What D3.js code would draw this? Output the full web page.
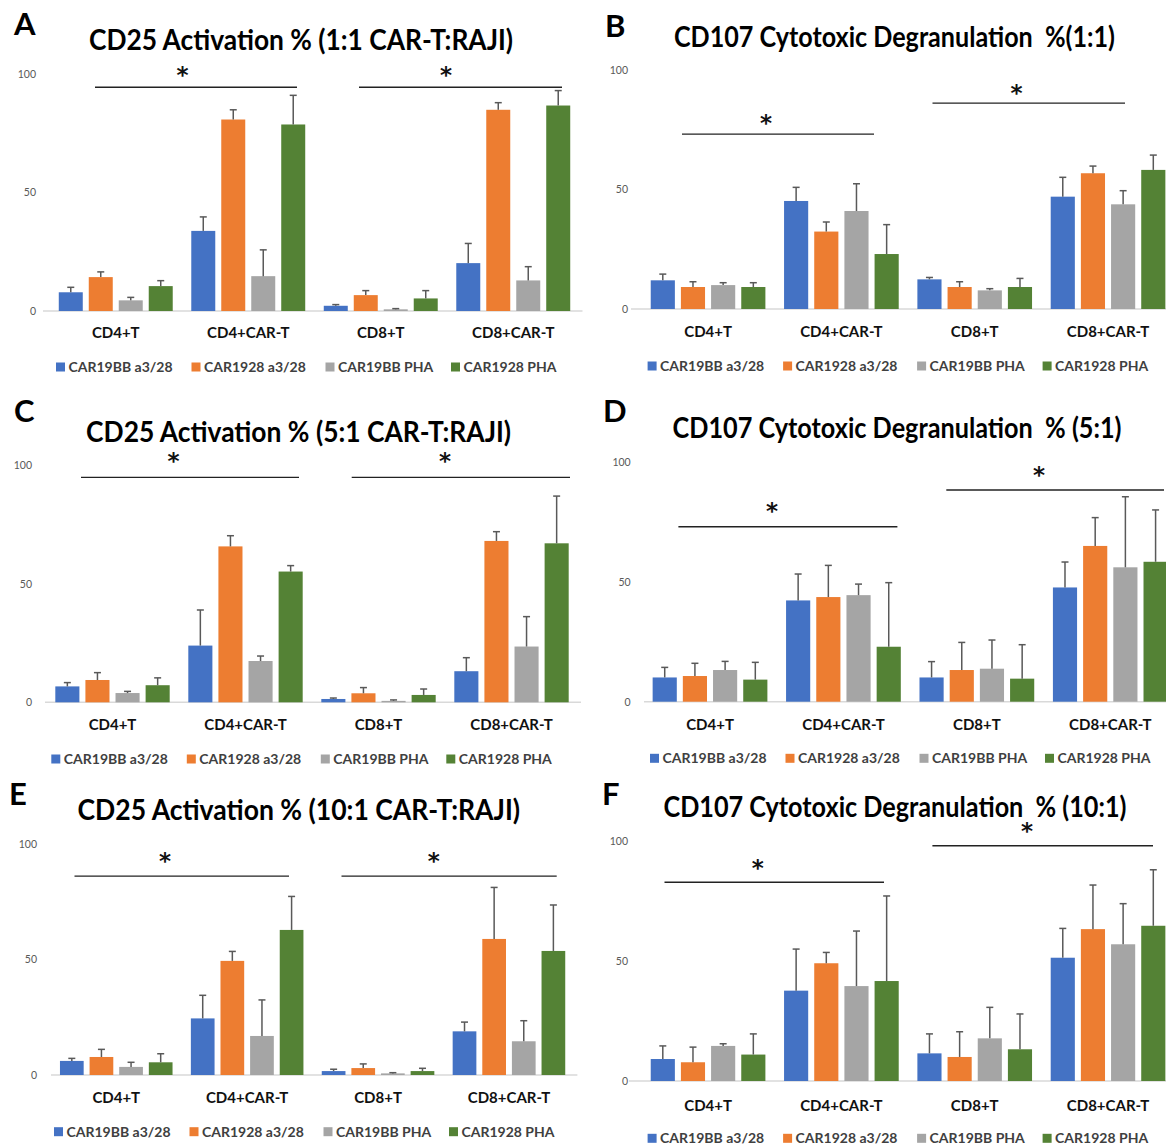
<!DOCTYPE html>
<html>
<head>
<meta charset="utf-8">
<script src="https://cdn.jsdelivr.net/npm/d3@7"></script>
<style>
  body { margin: 0; background: #fff; }
  svg { display: block; font-family: Lato, "Open Sans", sans-serif; }
</style>
</head>
<body>
<div id="chart"></div>
<script>
// categories and series shared by all six panels
const categories = ["CD4+T", "CD4+CAR-T", "CD8+T", "CD8+CAR-T"];
const seriesNames = ["CAR19BB a3/28", "CAR1928 a3/28", "CAR19BB PHA", "CAR1928 PHA"];
const tickValues = [0, 50, 100];

// means per category, in series order; sd = upper error bar
const cd25_1to1 = [[7.9, 14.3, 4.5, 10.5], [33.8, 80.8, 14.7, 78.7], [2.2, 6.7, 0.7, 5.3], [20.2, 84.9, 12.9, 86.7]];
const cd25_1to1_sd = [[2.1, 2.2, 1.25, 2.3], [5.9, 4.1, 11.1, 12.3], [0.5, 1.9, 0.3, 3.3], [8.3, 3.0, 5.8, 6.3]];
const cd107_1to1 = [[12.0, 9.2, 10.0, 9.2], [45.2, 32.4, 41.0, 23.0], [12.4, 9.2, 7.8, 9.2], [47.0, 56.8, 43.8, 58.2]];
const cd107_1to1_sd = [[2.6, 2.2, 1.0, 1.8], [5.7, 4.0, 11.4, 12.3], [0.8, 2.2, 0.7, 3.6], [8.1, 3.0, 5.7, 6.2]];
const cd25_5to1 = [[6.7, 9.4, 3.9, 7.2], [23.9, 65.7, 17.4, 55.1], [1.4, 3.8, 0.6, 3.1], [13.1, 68.0, 23.5, 67.0]];
const cd25_5to1_sd = [[1.6, 3.1, 0.7, 3.1], [15.0, 4.5, 2.1, 2.5], [0.4, 2.4, 0.4, 2.5], [5.7, 3.9, 12.6, 19.9]];
const cd107_5to1 = [[10.1, 10.7, 13.2, 9.2], [42.2, 43.6, 44.4, 22.9], [10.1, 13.2, 13.75, 9.6], [47.6, 64.9, 56.0, 58.3]];
const cd107_5to1_sd = [[4.2, 5.3, 3.6, 7.2], [11.0, 13.2, 4.6, 26.7], [6.6, 11.5, 11.95, 14.15], [10.6, 11.8, 29.4, 21.6]];
const cd25_10to1 = [[6.1, 7.8, 3.5, 5.5], [24.5, 49.4, 16.9, 62.8], [1.7, 3.0, 0.7, 1.7], [18.9, 58.9, 14.6, 53.7]];
const cd25_10to1_sd = [[1.1, 3.3, 2.0, 3.7], [10.0, 4.1, 15.6, 14.5], [0.8, 1.8, 0.3, 1.2], [4.0, 22.3, 8.9, 19.9]];
const cd107_10to1 = [[9.15, 7.8, 14.6, 11.0], [37.6, 49.0, 39.5, 41.6], [11.5, 10.0, 17.75, 13.2], [51.3, 63.2, 56.9, 64.6]];
const cd107_10to1_sd = [[5.45, 6.3, 0.9, 8.6], [17.3, 4.5, 22.9, 35.4], [8.1, 10.5, 12.9, 14.7], [12.2, 18.35, 16.9, 23.3]];

const titles = [
    "CD25 Activation % (1:1 CAR-T:RAJI)",
    "CD107 Cytotoxic Degranulation  %(1:1)",
    "CD25 Activation % (5:1 CAR-T:RAJI)",
    "CD107 Cytotoxic Degranulation  % (5:1)",
    "CD25 Activation % (10:1 CAR-T:RAJI)",
    "CD107 Cytotoxic Degranulation  % (10:1)"
];
const letters = ["A", "B", "C", "D", "E", "F"];

const colors = ["#4472C4", "#ED7D31", "#A5A5A5", "#548235"];

// where each panel sits on the page
const layouts = [
    {bl: 49.5, br: 579.5, y0: 311, y100: 74, tickR: 36, axL: 43, tx: 301, ty: 40, tw: 424, lx: 14, ly: 35, catY: 333, legX: 56, legY: 367,
     sig: [{x1: 95, x2: 297, v: 94.4, sx: 182.6, sv: 101.4}, {x1: 359, x2: 562, v: 94.4, sx: 446, sv: 101.4}]},
    {bl: 641.4, br: 1174.7, y0: 309, y100: 70, tickR: 628, axL: 631, tx: 894.5, ty: 37, tw: 441, lx: 605, ly: 37, catY: 331.7, legX: 647.6, legY: 366,
     sig: [{x1: 682, x2: 874, v: 73.2, sx: 766, sv: 79.8}, {x1: 932.5, x2: 1125, v: 86.1, sx: 1016.6, sv: 92.3}]},
    {bl: 46, br: 578, y0: 702.3, y100: 465, tickR: 32, axL: 45, tx: 298.6, ty: 431.7, tw: 425, lx: 14, ly: 422, catY: 725, legX: 51.3, legY: 759,
     sig: [{x1: 81, x2: 299, v: 94.8, sx: 173.6, sv: 103.5}, {x1: 351.7, x2: 570, v: 94.8, sx: 445, sv: 103.5}]},
    {bl: 643.3, br: 1177, y0: 701.7, y100: 461.7, tickR: 630.7, axL: 644, tx: 897, ty: 427.7, tw: 449, lx: 603, ly: 422, catY: 724.3, legX: 650, legY: 758.3,
     sig: [{x1: 678.4, x2: 897.4, v: 72.9, sx: 772, sv: 81.25}, {x1: 946.3, x2: 1164, v: 88.2, sx: 1039, sv: 96.25}]},
    {bl: 50.8, br: 574.4, y0: 1075, y100: 844, tickR: 37, axL: 51, tx: 298.8, ty: 810, tw: 442.5, lx: 9, ly: 805, catY: 1097.7, legX: 54, legY: 1131.7,
     sig: [{x1: 74.5, x2: 289, v: 86.1, sx: 165, sv: 94.5}, {x1: 341.5, x2: 556.7, v: 86.1, sx: 433.8, sv: 94.5}]},
    {bl: 641.4, br: 1174.7, y0: 1081, y100: 840.7, tickR: 628, axL: 629, tx: 895, ty: 807.3, tw: 463, lx: 602, ly: 805, catY: 1105.7, legX: 647.6, legY: 1138.3,
     sig: [{x1: 664.5, x2: 884, v: 82.7, sx: 757.7, sv: 90.6}, {x1: 932.4, x2: 1153, v: 97.9, sx: 1027, sv: 105.8}]}
];

const panelValues = [cd25_1to1, cd107_1to1, cd25_5to1, cd107_5to1, cd25_10to1, cd107_10to1];
const panelSd = [cd25_1to1_sd, cd107_1to1_sd, cd25_5to1_sd, cd107_5to1_sd, cd25_10to1_sd, cd107_10to1_sd];
const legendOffsets = [0, 135.5, 269.5, 395];

const svg = d3.select("#chart").append("svg")
    .attr("width", 1166)
    .attr("height", 1148);

layouts.forEach(function(L, i) {
    const g = svg.append("g");
    const vals = panelValues[i];
    const sds = panelSd[i];

    const x0 = d3.scaleBand().domain(categories).range([L.bl, L.br]);
    const bw = x0.bandwidth();
    const x1 = d3.scaleBand().domain(seriesNames)
        .range([bw * 0.07, bw * 0.93]).paddingInner(0.2);
    const y = d3.scaleLinear().domain([0, 100]).range([L.y0, L.y100]);

    // panel letter and title
    g.append("text")
        .attr("x", L.lx).attr("y", L.ly)
        .attr("font-size", 31).attr("font-weight", 700)
        .attr("fill", "#000")
        .text(letters[i]);
    g.append("text")
        .attr("x", L.tx).attr("y", L.ty)
        .attr("dy", "0.36em")
        .attr("text-anchor", "middle")
        .attr("font-size", 28).attr("font-weight", 700)
        .attr("fill", "#000")
        .attr("textLength", L.tw)
        .attr("lengthAdjust", "spacingAndGlyphs")
        .style("white-space", "pre")
        .text(titles[i]);

    // y axis labels only
    const yAxis = g.append("g")
        .attr("transform", "translate(" + L.tickR + ",0)")
        .call(d3.axisLeft(y).tickValues(tickValues).tickSize(0).tickPadding(0));
    yAxis.select(".domain").remove();
    yAxis.selectAll("text")
        .attr("font-family", "Lato, sans-serif")
        .attr("font-size", 10.5)
        .attr("fill", "#595959");

    // baseline
    g.append("line")
        .attr("x1", L.axL).attr("x2", Math.min(L.br + 3, 1166))
        .attr("y1", y(0)).attr("y2", y(0))
        .attr("stroke", "#d9d9d9").attr("stroke-width", 1.5);

    // category labels
    const xAxis = g.append("g")
        .attr("transform", "translate(0," + L.y0 + ")")
        .call(d3.axisBottom(x0).tickSize(0));
    xAxis.select(".domain").remove();
    xAxis.selectAll("text")
        .attr("y", L.catY - L.y0)
        .attr("dy", "0.36em")
        .attr("font-family", "Lato, sans-serif")
        .attr("font-size", 15)
        .attr("font-weight", 700)
        .attr("fill", "#111");

    const flat = [];
    categories.forEach(function(c, ci) {
        seriesNames.forEach(function(s, si) {
            flat.push({cat: c, series: s, si: si, v: vals[ci][si], sd: sds[ci][si]});
        });
    });

    const groups = g.selectAll(".grp").data(flat).enter().append("g")
        .attr("transform", function(d) {
            return "translate(" + (x0(d.cat) + x1(d.series)) + ",0)";
        });

    groups.append("rect")
        .attr("x", 0)
        .attr("width", x1.bandwidth())
        .attr("y", function(d) { return y(d.v); })
        .attr("height", function(d) { return y(0) - y(d.v); })
        .attr("fill", function(d) { return colors[d.si]; });

    // upper error bars
    const cx = x1.bandwidth() / 2;
    groups.append("line")
        .attr("x1", cx).attr("x2", cx)
        .attr("y1", function(d) { return y(d.v); })
        .attr("y2", function(d) { return y(d.v + d.sd); })
        .attr("stroke", "#595959").attr("stroke-width", 1.5);
    groups.append("line")
        .attr("x1", cx - 3.5).attr("x2", cx + 3.5)
        .attr("y1", function(d) { return y(d.v + d.sd); })
        .attr("y2", function(d) { return y(d.v + d.sd); })
        .attr("stroke", "#595959").attr("stroke-width", 1.5);

    // significance brackets
    L.sig.forEach(function(s) {
        g.append("line")
            .attr("x1", s.x1).attr("x2", s.x2)
            .attr("y1", y(s.v)).attr("y2", y(s.v))
            .attr("stroke", "#222").attr("stroke-width", 1.3);
        g.append("text")
            .attr("x", s.sx).attr("y", y(s.sv) + 12.5)
            .attr("text-anchor", "middle")
            .attr("font-family", "DejaVu Sans, sans-serif")
            .attr("font-size", 23).attr("font-weight", 700)
            .attr("fill", "#111")
            .text("*");
    });

    // legend
    const leg = g.selectAll(".leg").data(seriesNames).enter().append("g")
        .attr("transform", function(d, k) {
            return "translate(" + (L.legX + legendOffsets[k]) + "," + L.legY + ")";
        });
    leg.append("rect")
        .attr("x", 0).attr("y", -4.5)
        .attr("width", 9).attr("height", 9)
        .attr("fill", function(d, k) { return colors[k]; });
    leg.append("text")
        .attr("x", 12.5).attr("y", 0)
        .attr("dy", "0.36em")
        .attr("font-size", 14).attr("font-weight", 700)
        .attr("fill", "#404040")
        .text(function(d) { return d; });
});
</script>
</body>
</html>
